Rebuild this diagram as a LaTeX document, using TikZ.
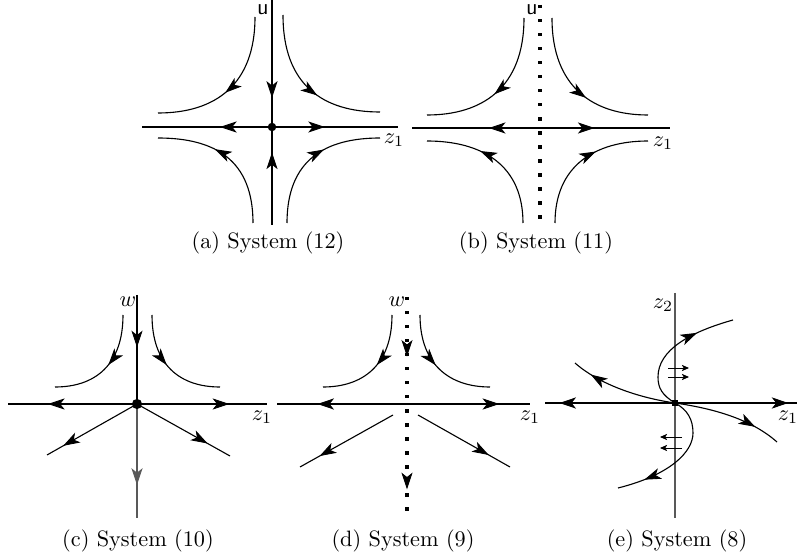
\documentclass[tikz,border=0pt]{standalone}
\usepackage{amsmath}
\usetikzlibrary{arrows.meta,decorations.markings}

\begin{document}
\begin{tikzpicture}[x=0.0158cm, y=-0.0158cm,
  axis/.style={line width=1.2pt},
  thinaxis/.style={line width=0.6pt, black!65},
  orbit/.style={line width=0.5pt},
  dotline/.style={line width=1.5pt, dash pattern=on 1.5pt off 4.8pt},
  flow/.style={postaction={decorate}, decoration={markings,
    mark=at position #1 with {\arrow[solid,line width=0.4pt]{Stealth[length=7.5pt,width=5pt,inset=2pt]}}}},
  flowtwo/.style 2 args={postaction={decorate}, decoration={markings,
    mark=at position #1 with {\arrow[solid,line width=0.4pt]{Stealth[length=7.5pt,width=5pt,inset=2pt]}},
    mark=at position #2 with {\arrow[solid,line width=0.4pt]{Stealth[length=7.5pt,width=5pt,inset=2pt]}}}},
  small/.style={line width=0.4pt, -{Stealth[length=3.2pt,width=2.8pt,inset=0.8pt]}},
  lab/.style={inner sep=0pt, font=\normalsize},
]
  \useasboundingbox (0,0) rectangle (797,560);

  % (a) System (12)
  \coordinate (Oa) at (272,127);
  \coordinate (aT) at (272,0);   \coordinate (aB) at (272,225);
  \coordinate (aL) at (142,127); \coordinate (aR) at (398,127);
  \draw[axis, flow=0.77] (aT) -- (Oa);
  \draw[axis, flow=0.74] (aB) -- (Oa);
  \draw[axis, flow=0.40] (Oa) -- (aL);
  \draw[axis, flow=0.42] (Oa) -- (aR);
  \fill (Oa) circle (1.9pt);
  \draw[orbit, flow=0.54] (255,17) .. controls (255,85) and (215,113) .. (158,113);
  \draw[orbit, flow=0.58] (283,15) .. controls (283,85) and (323,112) .. (380,112);
  \draw[orbit, flow=0.60] (253,223) .. controls (253,160) and (215,138) .. (158,138);
  \draw[orbit, flow=0.60] (287,223) .. controls (287,160) and (325,138) .. (380,138);
  \node[lab] (ua) at (263,10) {\textsf{u}};
  \node[lab] (za) at (394,140) {$z_1$};
  \node (capa) at (268,243) {(a) System (12)};

  % (b) System (11)
  \coordinate (Ob) at (540,128);
  \coordinate (bT) at (540,5);   \coordinate (bB) at (540,222);
  \coordinate (bL) at (412,128); \coordinate (bR) at (670,128);
  \draw[dotline] (bT) -- (bB);
  \draw[axis, flow=0.40] (Ob) -- (bL);
  \draw[axis, flow=0.42] (Ob) -- (bR);
  \draw[orbit, flow=0.54] (524,18) .. controls (524,88) and (482,115) .. (427,115);
  \draw[orbit, flow=0.58] (552,18) .. controls (552,88) and (594,115) .. (648,115);
  \draw[orbit, flow=0.62] (523,223) .. controls (523,165) and (482,141) .. (427,141);
  \draw[orbit, flow=0.62] (555,223) .. controls (555,165) and (596,141) .. (648,141);
  \node[lab] (ub) at (532,10) {\textsf{u}};
  \node[lab] (zb) at (663,143) {$z_1$};
  \node (capb) at (536,243) {(b) System (11)};

  % (c) System (10)
  \coordinate (Oc) at (137,404);
  \coordinate (cT) at (137,295); \coordinate (cB) at (137,518);
  \coordinate (cL) at (8,404);   \coordinate (cR) at (267,404);
  \coordinate (cSW) at (47,455); \coordinate (cSE) at (230,456);
  \draw[axis, flow=0.48] (cT) -- (Oc);
  \draw[thinaxis, flow=0.71] (Oc) -- (cB);
  \draw[axis, flow=0.69] (Oc) -- (cL);
  \draw[axis, flow=0.71] (Oc) -- (cR);
  \draw[orbit, flow=0.82] (Oc) -- (cSW);
  \draw[orbit, flow=0.76] (Oc) -- (cSE);
  \fill (Oc) circle (2.3pt);
  \draw[orbit, flow=0.47] (123,315) .. controls (123,365) and (95,387) .. (55,387);
  \draw[orbit, flow=0.47] (152,315) .. controls (152,365) and (180,387) .. (220,387);
  \node[lab] (wc) at (128,302) {$w$};
  \node[lab] (zc) at (262,417) {$z_1$};
  \node (capc) at (138,541) {(c) System (10)};

  % (d) System (9)
  \coordinate (Od) at (407,404);
  \coordinate (dT) at (407,297); \coordinate (dB) at (407,518);
  \coordinate (dL) at (277,404); \coordinate (dR) at (530,404);
  \draw[dotline, flowtwo={0.27}{0.87}] (dT) -- (dB);
  \draw[axis, flow=0.69] (Od) -- (dL);
  \draw[axis, flow=0.75] (Od) -- (dR);
  \draw[orbit, flow=0.47] (392,315) .. controls (392,365) and (363,387) .. (323,387);
  \draw[orbit, flow=0.47] (420,315) .. controls (420,365) and (450,387) .. (490,387);
  \draw[orbit, flow=0.79] (393,415) -- (300,467);
  \draw[orbit, flow=0.77] (418,415) -- (510,467);
  \node[lab] (wd) at (397,302) {$w$};
  \node[lab] (zd) at (530,417) {$z_1$};
  \node (capd) at (403,541) {(d) System (9)};

  % (e) System (8)
  \coordinate (Oe) at (675,403);
  \coordinate (eT) at (675,293); \coordinate (eB) at (675,518);
  \coordinate (eL) at (545,403); \coordinate (eR) at (797,403);
  \coordinate (eW) at (658,377); \coordinate (eE) at (693,433);
  \draw[thinaxis] (eT) -- (eB);
  \draw[line width=0.6pt, flow=0.89] (Oe) -- (eL);
  \draw[line width=0.6pt, flow=0.93] (Oe) -- (eR);
  \draw[orbit] (Oe) .. controls (662,395) and (658,388) .. (eW);
  \draw[orbit, flow=0.62] (eW) .. controls (658,350) and (690,332) .. (733,320);
  \draw[orbit] (Oe) .. controls (688,410) and (693,420) .. (eE);
  \draw[orbit, flow=0.72] (eE) .. controls (693,452) and (670,475) .. (618,488);
  \draw[orbit, flow=0.82] (Oe) .. controls (640,398) and (600,385) .. (575,363);
  \draw[orbit, flow=0.76] (Oe) .. controls (710,408) and (750,418) .. (777,442);
  \fill (Oe) ++(-1.4pt,-1.4pt) rectangle ++(2.8pt,2.8pt);
  \draw[small] (668,368) -- (689,368);
  \draw[small] (668,377) -- (689,377);
  \draw[small] (682,437) -- (660,437);
  \draw[small] (682,448) -- (660,448);
  \node[lab] (ze2) at (663,305) {$z_2$};
  \node[lab] (ze1) at (788,417) {$z_1$};
  \node (cape) at (677,541) {(e) System (8)};
\end{tikzpicture}
\end{document}
